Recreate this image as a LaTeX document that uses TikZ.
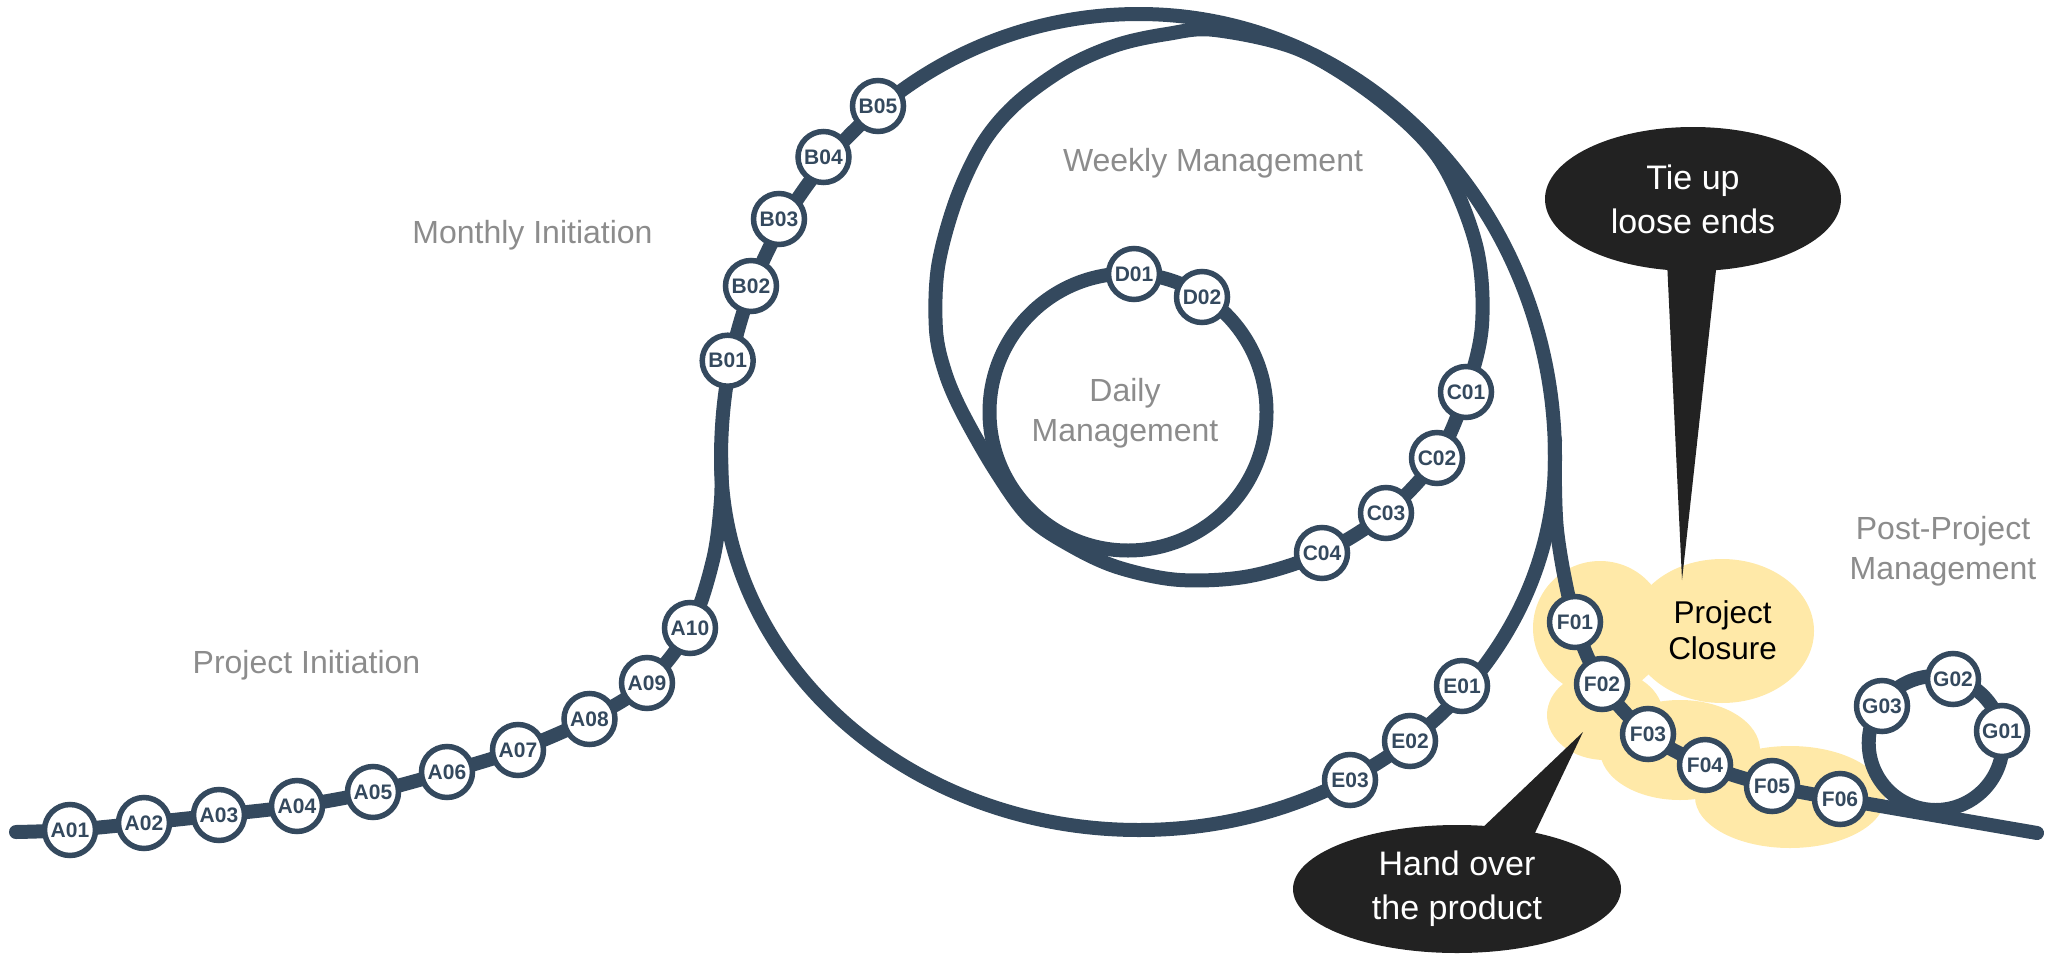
\documentclass[tikz,border=0pt]{standalone}
\usepackage{fontspec}
\setmainfont{Liberation Sans}
\usetikzlibrary{shapes.geometric,calc}
\definecolor{navy}{HTML}{34495E}
\definecolor{cloudy}{RGB}{255,233,168}
\definecolor{ink}{HTML}{222222}
\definecolor{lbl}{HTML}{8C8C8C}
\begin{document}
\begin{tikzpicture}[x=1pt,y=-1pt,
  stn/.style={circle,draw=navy,line width=5.5pt,fill=white,minimum size=51pt,inner sep=0pt,text=navy,font=\fontsize{21}{21}\selectfont\bfseries},
  track/.style={draw=navy,line width=14pt,line cap=round,line join=round},
  phase/.style={text=lbl,align=center,font=\fontsize{32}{40}\selectfont},
  bubble/.style={ellipse,fill=ink,text=white,align=center,inner sep=0pt,font=\fontsize{34}{44}\selectfont},
  blob/.style={fill=cloudy}]
\useasboundingbox (0,0) rectangle (2045,953);

% ---- station positions
\coordinate (a01) at (70,830);   \coordinate (a02) at (144,823);
\coordinate (a03) at (219,815);  \coordinate (a04) at (297,806);
\coordinate (a05) at (373,792);  \coordinate (a06) at (447,772);
\coordinate (a07) at (518,750);  \coordinate (a08) at (589.5,719);
\coordinate (a09) at (647,683);  \coordinate (a10) at (690,628);
\coordinate (b01) at (727.7,360.7); \coordinate (b02) at (751,286);
\coordinate (b03) at (779,219);  \coordinate (b04) at (823.5,157);
\coordinate (b05) at (878,106);
\coordinate (c01) at (1466,392); \coordinate (c02) at (1437,458);
\coordinate (c03) at (1386,513); \coordinate (c04) at (1322,553);
\coordinate (d01) at (1134,274); \coordinate (d02) at (1202,297);
\coordinate (e01) at (1462,686); \coordinate (e02) at (1410,741);
\coordinate (e03) at (1350,780);
\coordinate (f01) at (1575,622); \coordinate (f02) at (1602,684);
\coordinate (f03) at (1648,734); \coordinate (f04) at (1705,765);
\coordinate (f05) at (1772,786); \coordinate (f06) at (1840,799);
\coordinate (g01) at (2002,731); \coordinate (g02) at (1953,679);
\coordinate (g03) at (1882,706);
% ---- loop key points
\coordinate (start) at (16,832);
\coordinate (tail) at (2037,833);
\coordinate (ml) at (721,458);  \coordinate (mt) at (1139,14);
\coordinate (mr) at (1555,458); \coordinate (mb) at (1139,830);
\coordinate (dc) at (1128,412);
\coordinate (gc) at (1935.7,743);

% ---- project closure cloud
\fill[blob] (1600,628) ellipse[x radius=67,y radius=67]
  (1605,715) ellipse[x radius=58,y radius=45]
  (1722,631) ellipse[x radius=92,y radius=72]
  (1680,750) ellipse[x radius=80,y radius=50]
  (1790,797) ellipse[x radius=95,y radius=51];

% ---- tracks
\draw[track] (ml) .. controls (721,209) and (905,14) .. (mt)
  .. controls (1369,14) and (1555,213) .. (mr)
  .. controls (1555,664) and (1369,830) .. (mb)
  .. controls (908,830) and (721,664) .. cycle;
\draw[track] plot[smooth cycle,tension=0.55] coordinates {
  (936,330) (938,267) (956,200) (983,143) (1017,103) (1067,67) (1117,45)
  (1167,34) (1215,30) (1300,50) (1380,100) (1440,160) (1476,245) (1482,325)
  (c01) (c02) (c03) (c04) (1250,576) (1180,580) (1120,568) (1075,548)
  (1030,518) (995,470) (962,412) (945,372)};
\draw[track] (dc) circle[radius=138.5];
\draw[track] plot[smooth,tension=0.55] coordinates {(start) (a01) (a02) (a03)
  (a04) (a05) (a06) (a07) (a08) (a09) (a10) (713,560) (721,500) (ml)};
\draw[track] plot[smooth,tension=0.55] coordinates {(1555,440) (1557,530)
  (f01) (f02) (f03) (f04) (f05) (f06)} -- (tail);
\draw[track] (gc) circle[radius=67];

% ---- stations
\foreach \s/\p in {A01/a01,A02/a02,A03/a03,A04/a04,A05/a05,A06/a06,A07/a07,
  A08/a08,A09/a09,A10/a10,B01/b01,B02/b02,B03/b03,B04/b04,B05/b05,
  C01/c01,C02/c02,C03/c03,C04/c04,D01/d01,D02/d02,E01/e01,E02/e02,E03/e03,
  F01/f01,F02/f02,F03/f03,F04/f04,F05/f05,F06/f06,G01/g01,G02/g02,G03/g03}{
  \node[stn] (\s) at (\p) {\s};
}

% ---- phase labels
\node[phase] (pi) at (306.5,665) {Project Initiation};
\node[phase] (mi) at (532.5,235) {Monthly Initiation};
\node[phase] (wm) at (1213,163) {Weekly Management};
\node[phase] (dm) at (1125,413) {Daily\\Management};
\node[phase] (ppm) at (1943,551) {Post-Project\\Management};
\node[align=center,font=\fontsize{31.5}{36}\selectfont] (pc) at (1722.5,630) {Project\\Closure};

% ---- callouts
\node[bubble,minimum width=296pt,minimum height=144pt] (tie) at (1693,199) {Tie up\\loose ends};
\coordinate (tiptop) at (1682,580);
\fill[ink] ($(tie.center)+(-26,62)$) -- (tiptop) -- ($(tie.center)+(24,62)$) -- cycle;
\node[bubble,minimum width=328pt,minimum height=128pt] (hand) at (1457,889) {Hand over\\the product};
\coordinate (tipbot) at (1583,732);
\fill[ink] ($(hand.center)+(22,-58)$) -- (tipbot) -- ($(hand.center)+(76,-52)$) -- cycle;
\end{tikzpicture}
\end{document}
